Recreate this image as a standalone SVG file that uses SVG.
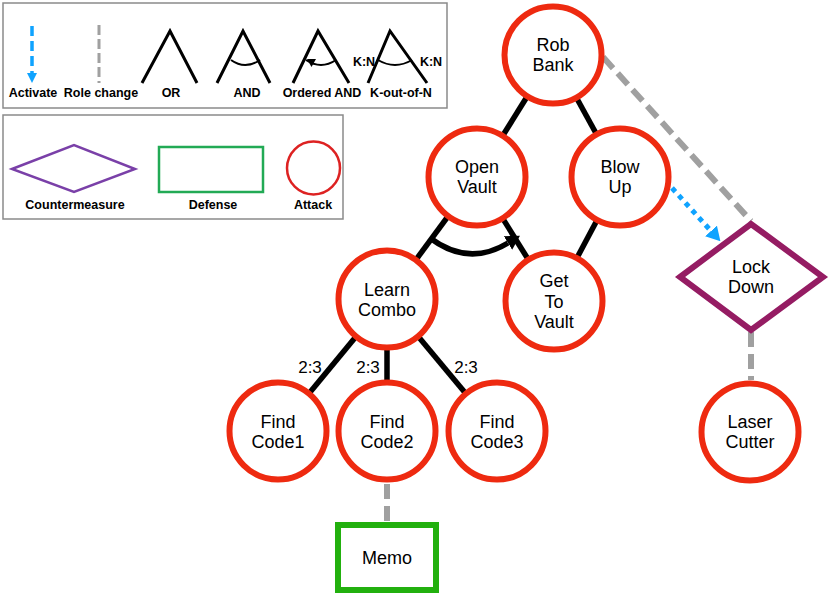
<svg xmlns="http://www.w3.org/2000/svg" width="830" height="595" viewBox="0 0 830 595">
<style>
  text { font-family: "Liberation Sans", Arial, sans-serif; fill: #000; }
  .node { font-size: 18px; text-anchor: middle; }
  .lab { font-size: 17px; text-anchor: middle; }
  .leg { font-size: 12.5px; font-weight: bold; text-anchor: middle; }
  .attack { fill: #fff; stroke: #ee2a10; stroke-width: 6; }
  .edge { stroke: #000; stroke-width: 5.5; fill: none; }
  .role { stroke: #a0a0a0; stroke-width: 6; stroke-dasharray: 15 7; fill: none; }
  .act { stroke: #0fa3ff; stroke-width: 5; stroke-dasharray: 5 5; fill: none; }
  .box { fill: #fff; stroke: #8a8a8a; stroke-width: 1.5; }
  .gl { stroke: #000; stroke-width: 3; fill: none; stroke-linecap: butt; }
  .ga { stroke: #000; stroke-width: 2; fill: none; }
</style>
<defs>
  <marker id="blackHead" markerUnits="userSpaceOnUse" viewBox="0 0 14 16" refX="0" refY="8" markerWidth="14" markerHeight="16" orient="auto">
    <path d="M0,0 L14,8 L0,16 z" fill="#000"/>
  </marker>
  <marker id="blueHead" markerUnits="userSpaceOnUse" viewBox="0 0 14 16" refX="0" refY="8" markerWidth="14" markerHeight="16" orient="auto">
    <path d="M0,0 L14,8 L0,16 z" fill="#0fa3ff"/>
  </marker>
</defs>
<rect width="830" height="595" fill="#fff"/>

<!-- Legend 1 -->
<g id="legend-connectors">
  <rect class="box" x="3" y="3" width="444" height="105"/>
  <line x1="32" y1="26" x2="32" y2="73" stroke="#0fa3ff" stroke-width="3.5" stroke-dasharray="10 5"/>
  <polygon points="27,73 37,73 32,83" fill="#0fa3ff"/>
  <text class="leg" x="33" y="97">Activate</text>
  <line x1="99" y1="25" x2="99" y2="83" stroke="#a0a0a0" stroke-width="3" stroke-dasharray="10 4"/>
  <text class="leg" x="101" y="97">Role change</text>
  <polyline class="gl" points="142,83 170,31 197,83"/>
  <text class="leg" x="171" y="97">OR</text>
  <polyline class="gl" points="217,83 243,31 270,83"/>
  <path class="ga" d="M231,60 Q245,70 260,60"/>
  <text class="leg" x="247" y="97">AND</text>
  <polyline class="gl" points="293,83 318,31 349,83"/>
  <path class="ga" d="M306,60 Q321,70 336,60"/>
  <polygon points="307,59 316,59 311.5,67" fill="#000"/>
  <text class="leg" x="322" y="97">Ordered AND</text>
  <text class="leg" x="364" y="66">K:N</text>
  <polyline class="gl" points="368,83 390,31 427,83"/>
  <path class="ga" d="M378,60 Q395,70 412,60"/>
  <text class="leg" x="431" y="66">K:N</text>
  <text class="leg" x="401" y="97">K-out-of-N</text>
</g>

<!-- Legend 2 -->
<g id="legend-nodes">
  <rect class="box" x="3" y="115" width="340" height="104"/>
  <polygon points="12,169 74,145 135,169 74,192" fill="none" stroke="#7a40a8" stroke-width="2.5"/>
  <text class="leg" x="75" y="209">Countermeasure</text>
  <rect x="159" y="147" width="104" height="45" fill="none" stroke="#22aa55" stroke-width="2.5"/>
  <text class="leg" x="213" y="209">Defense</text>
  <circle cx="313.5" cy="168" r="26.5" fill="none" stroke="#dd2222" stroke-width="2.5"/>
  <text class="leg" x="313" y="209">Attack</text>
</g>

<!-- Connectors -->
<g id="connectors">
  <line class="edge" x1="553" y1="55" x2="477" y2="177"/>
  <line class="edge" x1="553" y1="55" x2="620" y2="177"/>
  <line class="edge" x1="477" y1="177" x2="387" y2="299"/>
  <line class="edge" x1="477" y1="177" x2="554" y2="301"/>
  <line class="edge" x1="620" y1="177" x2="554" y2="301"/>
  <path class="edge" d="M430,238 Q468.5,267 508,243" marker-end="url(#blackHead)"/>
  <line class="edge" x1="387" y1="299" x2="278" y2="431"/>
  <line class="edge" x1="387" y1="299" x2="387" y2="431"/>
  <line class="edge" x1="387" y1="299" x2="497" y2="431"/>
  <line class="role" x1="603" y1="57" x2="751" y2="221"/>
  <line class="role" x1="751" y1="332" x2="751" y2="380"/>
  <line class="role" x1="387" y1="484" x2="387" y2="522"/>
  <line class="act" x1="672" y1="188" x2="711" y2="231" marker-end="url(#blueHead)"/>
  <text class="lab" x="310" y="373">2:3</text>
  <text class="lab" x="368" y="373">2:3</text>
  <text class="lab" x="466" y="373">2:3</text>
</g>

<!-- Nodes -->
<g id="rob-bank">
  <circle class="attack" cx="553" cy="55" r="48.5"/>
  <text class="node" x="553" y="51">Rob</text>
  <text class="node" x="553" y="71">Bank</text>
</g>
<g id="open-vault">
  <circle class="attack" cx="477" cy="177" r="48.5"/>
  <text class="node" x="477" y="173">Open</text>
  <text class="node" x="477" y="193">Vault</text>
</g>
<g id="blow-up">
  <circle class="attack" cx="620" cy="177" r="48.5"/>
  <text class="node" x="620" y="173">Blow</text>
  <text class="node" x="620" y="193">Up</text>
</g>
<g id="learn-combo">
  <circle class="attack" cx="387" cy="299" r="48.5"/>
  <text class="node" x="387" y="296">Learn</text>
  <text class="node" x="387" y="316">Combo</text>
</g>
<g id="get-to-vault">
  <circle class="attack" cx="554" cy="301" r="48.5"/>
  <text class="node" x="554" y="287">Get</text>
  <text class="node" x="554" y="307.5">To</text>
  <text class="node" x="554" y="328">Vault</text>
</g>
<g id="find-code1">
  <circle class="attack" cx="278" cy="431" r="48.5"/>
  <text class="node" x="278" y="428">Find</text>
  <text class="node" x="278" y="448">Code1</text>
</g>
<g id="find-code2">
  <circle class="attack" cx="387" cy="431" r="48.5"/>
  <text class="node" x="387" y="428">Find</text>
  <text class="node" x="387" y="448">Code2</text>
</g>
<g id="find-code3">
  <circle class="attack" cx="497" cy="431" r="48.5"/>
  <text class="node" x="497" y="428">Find</text>
  <text class="node" x="497" y="448">Code3</text>
</g>
<g id="lock-down">
  <polygon points="680,277 751,224 823,277 751,330" fill="#fff" stroke="#951c63" stroke-width="6"/>
  <text class="node" x="751" y="273">Lock</text>
  <text class="node" x="751" y="293">Down</text>
</g>
<g id="laser-cutter">
  <circle class="attack" cx="750" cy="432" r="48.5"/>
  <text class="node" x="750" y="428">Laser</text>
  <text class="node" x="750" y="448">Cutter</text>
</g>
<g id="memo">
  <rect x="338" y="525" width="98" height="65" fill="#fff" stroke="#22b00e" stroke-width="6"/>
  <text class="node" x="387" y="564">Memo</text>
</g>
</svg>
